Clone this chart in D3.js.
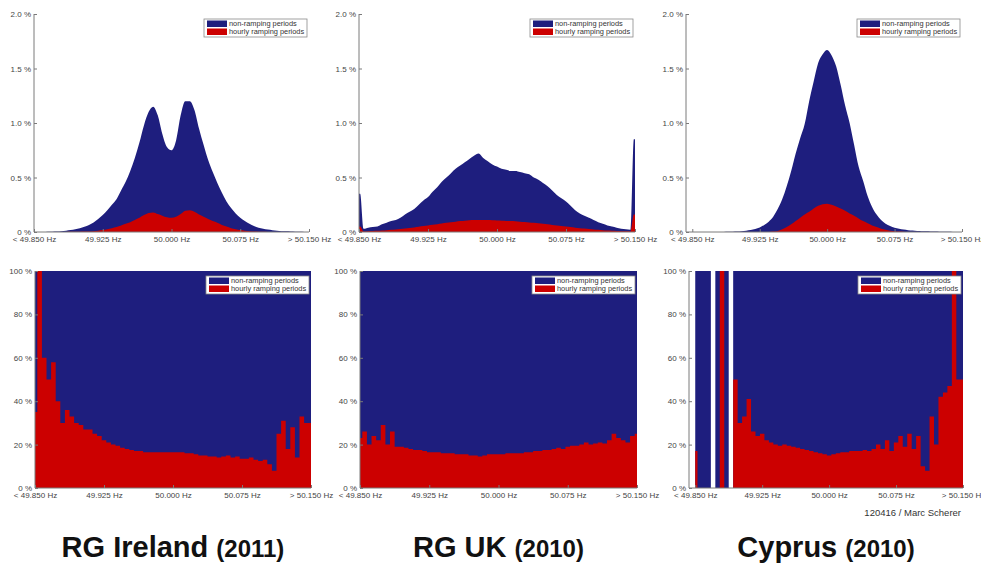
<!DOCTYPE html>
<html>
<head>
<meta charset="utf-8">
<script src="https://cdn.jsdelivr.net/npm/d3@7"></script>
<style>
  html, body { margin: 0; padding: 0; background: #fff; }
  svg { display: block; }
  .tick text { font-family: "Liberation Sans", Arial, sans-serif; font-size: 8px; fill: #444; }
</style>
</head>
<body>
<svg id="chart" width="981" height="563"></svg>
<script>
// ---------------- DATA ----------------
const freqBins = [49.850,49.855,49.860,49.865,49.870,49.875,49.880,49.885,49.890,49.895,
  49.900,49.905,49.910,49.915,49.920,49.925,49.930,49.935,49.940,49.945,
  49.950,49.955,49.960,49.965,49.970,49.975,49.980,49.985,49.990,49.995,
  50.000,50.005,50.010,50.015,50.020,50.025,50.030,50.035,50.040,50.045,
  50.050,50.055,50.060,50.065,50.070,50.075,50.080,50.085,50.090,50.095,
  50.100,50.105,50.110,50.115,50.120,50.125,50.130,50.135,50.140,50.145,50.150];

const xTickValues = [49.850, 49.925, 50.000, 50.075, 50.150];
const xTickLabels = ["< 49.850 Hz", "49.925 Hz", "50.000 Hz", "50.075 Hz", "> 50.150 Hz"];
const topYTicks = [0, 0.5, 1.0, 1.5, 2.0];
const topYTickLabels = ["0 %", "0.5 %", "1.0 %", "1.5 %", "2.0 %"];
const bottomYTicks = [0, 20, 40, 60, 80, 100];
const bottomYTickLabels = ["0 %", "20 %", "40 %", "60 %", "80 %", "100 %"];

const seriesNames = ["non-ramping periods", "hourly ramping periods"];
const regions = ["RG Ireland", "RG UK", "Cyprus"];
const years = ["(2011)", "(2010)", "(2010)"];
const credit = "120416 / Marc Scherer";

// share of time per frequency bin (%), all periods
const irelandAll = [0,0,0,0.002,0.003,0.005,0.008,0.012,0.018,0.025,
  0.035,0.048,0.065,0.088,0.12,0.155,0.2,0.25,0.3,0.38,
  0.46,0.56,0.68,0.82,0.98,1.1,1.15,1.07,0.9,0.78,
  0.75,0.84,1.07,1.2,1.2,1.12,0.95,0.8,0.66,0.55,
  0.45,0.36,0.28,0.22,0.17,0.13,0.1,0.075,0.055,0.04,
  0.03,0.022,0.016,0.012,0.008,0.006,0.004,0.003,0.002,0.001,0.001];
const irelandRamp = [0,0,0,0,0,0,0,0.001,0.002,0.002,
  0.003,0.004,0.005,0.008,0.012,0.018,0.025,0.035,0.045,0.06,
  0.075,0.09,0.11,0.13,0.155,0.175,0.18,0.165,0.15,0.135,
  0.13,0.14,0.165,0.195,0.2,0.185,0.16,0.14,0.12,0.1,
  0.085,0.065,0.05,0.035,0.025,0.018,0.012,0.008,0.005,0.003,
  0.002,0.001,0.001,0,0,0,0,0,0,0,0];

const ukAll = [0.35,0.03,0.04,0.045,0.05,0.07,0.085,0.1,0.11,0.13,
  0.16,0.185,0.21,0.25,0.29,0.32,0.37,0.41,0.46,0.5,
  0.54,0.58,0.61,0.64,0.67,0.7,0.72,0.68,0.65,0.62,
  0.6,0.58,0.57,0.56,0.56,0.55,0.54,0.53,0.5,0.48,
  0.45,0.42,0.38,0.34,0.31,0.28,0.24,0.2,0.17,0.15,
  0.13,0.11,0.09,0.075,0.06,0.05,0.04,0.03,0.025,0.02,0.85];
const ukRamp = [0.05,0.005,0.007,0.009,0.011,0.014,0.017,0.02,0.024,0.028,
  0.032,0.037,0.042,0.048,0.054,0.06,0.066,0.072,0.078,0.084,
  0.09,0.095,0.1,0.104,0.107,0.109,0.11,0.11,0.11,0.108,
  0.106,0.104,0.102,0.1,0.098,0.095,0.092,0.088,0.084,0.08,
  0.076,0.07,0.065,0.06,0.055,0.05,0.045,0.04,0.035,0.031,
  0.027,0.023,0.02,0.017,0.014,0.012,0.01,0.008,0.006,0.005,0.16];

const cyprusAll = [0,0,0,0,0,0,0,0.001,0.002,0.003,
  0.005,0.008,0.012,0.018,0.028,0.042,0.065,0.095,0.14,0.21,
  0.3,0.42,0.56,0.72,0.86,0.99,1.2,1.38,1.55,1.63,
  1.67,1.62,1.52,1.35,1.16,1.0,0.8,0.6,0.47,0.33,
  0.23,0.16,0.11,0.075,0.055,0.04,0.03,0.022,0.017,0.013,
  0.01,0.008,0.006,0.005,0.004,0.003,0.002,0.002,0.001,0.001,0.001];
const cyprusRamp = [0,0,0,0,0,0,0,0,0,0,
  0,0,0,0,0,0,0,0,0.004,0.01,
  0.025,0.045,0.07,0.1,0.13,0.16,0.185,0.215,0.24,0.255,
  0.26,0.25,0.235,0.215,0.195,0.17,0.15,0.125,0.1,0.08,
  0.06,0.045,0.03,0.02,0.012,0.007,0.004,0.002,0,0,
  0,0,0,0,0,0,0,0,0,0,0];

// share of hourly ramping periods within each frequency bin (%), null = no data
const irelandShare = [35,100,60,50,58,40,30,36,33,30,
  29,27,27,25,24,22,21,20,19.5,18.5,
  18,17.5,17,17,16.5,16.5,16.5,16.5,16.5,16.5,
  16.5,16.5,16.5,16,16,15.5,15,15,14.5,14.5,
  14,14.5,15,14,14.5,13.5,13.5,14,13,12.5,
  13,11,8,25,31,18,28,14,33,30,30];
const ukShare = [23,26,20,24,22,29,20,26,19,19,
  18.5,18,17.5,17.5,17,16.5,16.5,16.5,16,16,
  16,15.5,15.5,15.5,15,15,14.5,15,15.5,15.5,
  15.5,15.5,16,16,16,16,16.5,16.5,17,17,
  17.5,17.5,18,18.5,18,19,19.5,19.5,20,21,
  20,20.5,21,20.5,22,25,23,22,21,24,25];
const cyprusShare = [17,0,0,0,null,0,100,0,null,50,
  30,33,41,26,24,25,22,21,20,19.5,
  20,19.5,19,18.5,18,17.5,17,16.5,16,15.5,
  15,15.5,16,16.5,16.5,17,17,17,17.5,17,
  18,20,18,22,17,21,24,19,25,18,
  24,10,8,33,20,42,44,47,100,50,50];

// ---------------- LAYOUT / STYLE ----------------
const BLUE = "#1e1e7e", RED = "#cc0000", AXIS = "#7a7a7a";
const cols = [
  { top: [34, 309], bot: [35, 311], dom: [49.850, 50.150] },
  { top: [359, 635], bot: [360, 637], dom: [49.850, 50.150] },
  { top: [686, 962], bot: [689, 963], dom: [49.843, 50.150] }
];
const topY = [14, 232], botY = [271, 488];
const halfBin = 0.0025, lo = 49.850, hi = 50.150;
const last = freqBins.length - 1;

const svg = d3.select("#chart");

const topData = [[irelandAll, irelandRamp], [ukAll, ukRamp], [cyprusAll, cyprusRamp]];
const botData = [irelandShare, ukShare, cyprusShare];

// histogram as a step area: each bin contributes its left and right edge
function stepPoints(values) {
  const pts = [];
  freqBins.forEach((f, i) => {
    const v = values[i];
    pts.push({ f: Math.max(lo, f - halfBin), v });
    pts.push({ f: Math.min(hi, f + halfBin), v });
  });
  return pts;
}
// fine-binned distribution: outer (overflow) bins as narrow bars, inner bins through their centres
function smoothPoints(values) {
  const pts = [{ f: lo, v: values[0] }, { f: lo + halfBin * 0.5, v: values[0] }];
  for (let i = 1; i < last; i++) pts.push({ f: freqBins[i], v: values[i] });
  pts.push({ f: hi - halfBin * 0.5, v: values[last] }, { f: hi, v: values[last] });
  return pts;
}
function drawArea(g, x, y, pts, color, curve) {
  const area = d3.area()
    .defined(d => d.v !== null)
    .curve(curve)
    .x(d => x(d.f)).y0(y(0)).y1(d => y(d.v));
  g.append("path").attr("d", area(pts)).attr("fill", color);
}

function drawAxes(g, x, y, yTicks, yLabels, yRange, xRange) {
  const ax = d3.axisBottom(x).tickValues(xTickValues)
    .tickFormat((d, i) => xTickLabels[i]).tickSizeInner(-3).tickSizeOuter(0).tickPadding(4);
  const gx = g.append("g").attr("transform", `translate(0,${yRange[1]})`).call(ax);
  gx.select(".domain").attr("d", `M${xRange[0]},0H${xRange[1]}`);
  const ay = d3.axisLeft(y).tickValues(yTicks)
    .tickFormat((d, i) => yLabels[i]).tickSizeInner(-3).tickSizeOuter(0).tickPadding(3);
  const gy = g.append("g").attr("transform", `translate(${xRange[0]},0)`).call(ay);
  gy.select(".domain").attr("d", `M0,${yRange[0]}V${yRange[1]}`);
  g.selectAll(".domain, .tick line").attr("stroke", AXIS).attr("stroke-width", 1);
}

function drawLegend(g, xRight, yTop) {
  const w = 103, h = 18;
  const lg = g.append("g").attr("transform", `translate(${xRight - w - 2},${yTop + 5})`);
  lg.append("rect").attr("width", w).attr("height", h).attr("fill", "#fff")
    .attr("stroke", "#8a8a8a").attr("stroke-width", 0.8);
  [BLUE, RED].forEach((c, i) => {
    lg.append("rect").attr("x", 3).attr("y", 1.5 + i * 8).attr("width", 20).attr("height", 6.5).attr("fill", c);
    lg.append("text").attr("x", 25).attr("y", 7.2 + i * 8)
      .attr("font-family", "Liberation Sans, Arial, sans-serif").attr("font-size", 7.4)
      .attr("fill", "#333").text(seriesNames[i]);
  });
}

cols.forEach((c, k) => {
  // ---- top panel: distribution ----
  const xt = d3.scaleLinear().domain(c.dom).range(c.top);
  const yt = d3.scaleLinear().domain([0, 2.0]).range([topY[1], topY[0]]);
  const gt = svg.append("g");
  const [all, ramp] = topData[k];
  drawArea(gt, xt, yt, smoothPoints(all), BLUE, d3.curveMonotoneX);
  drawArea(gt, xt, yt, smoothPoints(ramp), RED, d3.curveMonotoneX);
  drawAxes(gt, xt, yt, topYTicks, topYTickLabels, topY, c.top);
  drawLegend(gt, c.top[1], topY[0]);

  // ---- bottom panel: share of ramping periods ----
  const xb = d3.scaleLinear().domain(c.dom).range(c.bot);
  const yb = d3.scaleLinear().domain([0, 100]).range([botY[1], botY[0]]);
  const gb = svg.append("g");
  const share = botData[k];
  drawArea(gb, xb, yb, stepPoints(share.map(v => v === null ? null : 100)), BLUE, d3.curveLinear);
  drawArea(gb, xb, yb, stepPoints(share), RED, d3.curveLinear);
  drawAxes(gb, xb, yb, bottomYTicks, bottomYTickLabels, botY, c.bot);
  drawLegend(gb, c.bot[1], botY[0]);

  // ---- title ----
  const t = svg.append("text").attr("x", (c.bot[0] + c.bot[1]) / 2).attr("y", 557)
    .attr("text-anchor", "middle")
    .attr("font-family", "'Liberation Sans', Arial, sans-serif")
    .attr("font-weight", "bold").attr("fill", "#111");
  t.append("tspan").attr("font-size", 29).text(regions[k] + " ");
  t.append("tspan").attr("font-size", 24).text(years[k]);
});

svg.append("text").attr("x", 961).attr("y", 516).attr("text-anchor", "end")
  .attr("font-family", "Liberation Sans, Arial, sans-serif").attr("font-size", 9.5)
  .attr("fill", "#333").text(credit);
</script>
</body>
</html>
